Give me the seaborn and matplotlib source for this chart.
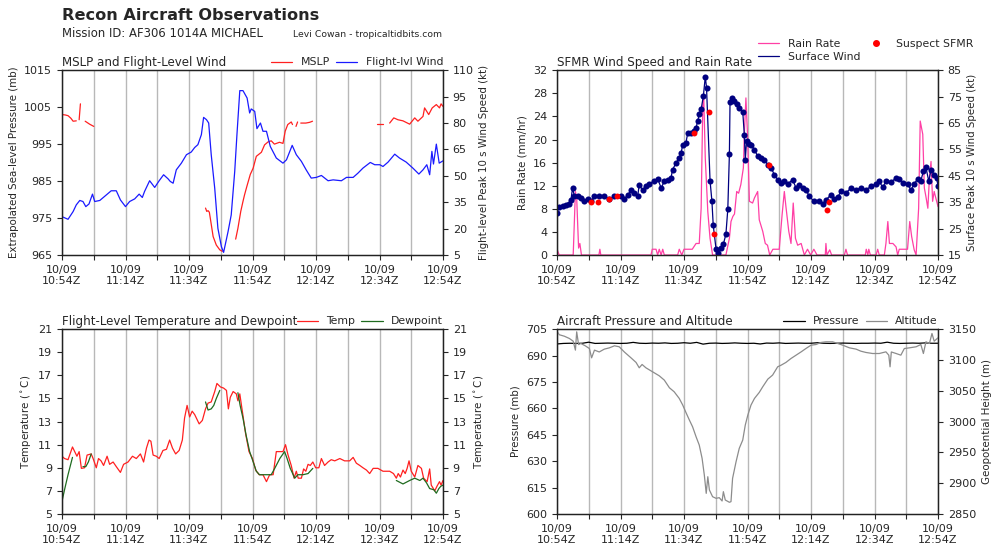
import matplotlib
matplotlib.use("Agg")
import matplotlib.pyplot as plt
import matplotlib.dates as mdates
from matplotlib.lines import Line2D
import numpy as np
import pandas as pd
import seaborn as sns

nan = np.nan
BASE = pd.Timestamp("2018-10-09 10:54")

# minutes after 10:54Z, NaN values mark gaps in the record
mslp_t = [0, 1, 1.9, 2.8, 3.5, 4.5, 5.0, 5.4, 5.8, 6.5, 7.3, 8.0, 8.7, 10, 11,
          45.2, 45.6, 46, 46.4, 46.7, 47.6, 48.6, 49.7, 50.5, 52,
          54.7, 55.4, 56.3, 57, 57.5, 58.2, 59.3, 60.2, 61.2, 62.8, 63.8, 64.9, 65.9,
          66.9, 68.5, 69.6, 70.3, 71.1, 72.2, 72.6, 73.2, 73.7, 74.2, 74.8,
          75.2, 76.8, 78, 78.9, 85, 99.2, 101.1, 102,
          103.2, 104.5, 105.8, 107.4, 109.5, 111.1, 112.1, 113.7, 114.2, 115.5,
          116.6, 117.9, 118.9, 119.4, 120]
mslp = [1003.0, 1002.9, 1002.7, 1002.0, 1001.2, 1001.3, nan, 1001.6, 1005.9, nan,
        1001.2, 1000.8, 1000.4, 999.8, nan,
        977.7, 976.8, 977.0, 976.6, 975.0, 970.0, 967.7, 966.4, 966.0, nan,
        969.3, 972.2, 976.8, 979.5, 981.3, 983.5, 986.8, 988.5, 991.7, 992.8, 994.8,
        995.6, 995.9, 995.0, 995.5, 995.2, 998.5, 1000.3, 1001.0, 1000.3, nan,
        999.8, 1001.0, nan, 1000.7, 1000.7, 1000.9, 1001.2, nan, 1000.5, 1000.5, nan,
        1000.7, 1002.1, 1001.6, 1001.3, 1000.4, 1002.1, 1001.2, 1002.5, 1004.8,
        1003.0, 1004.8, 1005.7, 1004.8, 1005.9, 1005.2]

flwind_t = [0, 1.9, 3.5, 4.5, 5.6, 6.6, 7.5, 8.5, 9.6, 10.3, 11.9, 14, 15.5, 17.1,
            18.4, 20, 21.3, 22.9, 24.3, 25.3, 26, 27.6, 29.2, 30.6, 32, 33.4, 34.1,
            35, 36, 37.6, 39.2, 40.7, 41.8, 42.8, 43.9, 44.6, 45.5, 46.2, 47, 48.1,
            49.1, 50.2, 50.9, 52.3, 53.3, 54.4, 55.1, 56, 57, 58.3, 59.1, 59.6, 60.7,
            61.4, 62.5, 63.3, 64.4, 65.6, 67.5, 69.6, 70.7, 72.5, 73.8, 75.4, 76.9,
            78.5, 80.1, 81.7, 83.8, 85.4, 88, 89.6, 91.7, 93.2, 94.8, 97.1, 98.5,
            100.1, 101.1, 102.7, 104.8, 106.3, 108.4, 110.5, 112.4, 113.7, 114.9,
            115.8, 116.5, 117, 117.9, 118.8, 120]
flwind = [26.8, 25.3, 29.7, 33.5, 36.0, 35.4, 32.5, 34.0, 39.6, 35.4, 36.0, 39.2,
          41.5, 41.5, 36.3, 32.5, 35.4, 36.9, 39.6, 37.7, 41.1, 47.2, 43.4, 47.2,
          50.6, 48.3, 46.8, 45.8, 53.4, 57.2, 62.0, 63.5, 66.1, 67.7, 73.4, 83.2,
          81.9, 80.0, 62.0, 43.0, 20.2, 9.8, 6.5, 18.3, 27.8, 52.5, 73.4, 98.4,
          98.4, 94.2, 85.7, 88.0, 86.6, 76.8, 80.0, 75.3, 75.3, 66.7, 60.1, 57.2,
          59.1, 67.3, 62.0, 58.2, 53.4, 48.7, 49.1, 50.2, 47.2, 47.7, 47.2, 49.1,
          49.1, 51.5, 54.4, 57.6, 56.3, 56.3, 55.3, 57.8, 62.3, 60.1, 57.8, 54.4,
          51.0, 53.4, 56.3, 50.6, 63.9, 56.7, 68.0, 57.2, 58.5]

rain_t = [0, 0.7, 5.1, 5.8, 6.2, 6.8, 7.2, 7.7, 13.2, 13.5, 13.8, 29.6, 30, 31.2,
          31.7, 32.2, 32.8, 33.3, 33.8, 38, 38.5, 39.3, 40, 41, 42.6, 43.8, 44.8,
          45.4, 45.9, 46.2, 46.7, 47.5, 48.2, 49, 53.2, 54.3, 54.8, 55.4, 55.9,
          56.6, 57.2, 57.9, 58.7, 59, 59.5, 60, 60.6, 61.6, 62.2, 63.2, 63.7, 64.8,
          65.6, 66.3, 67, 68, 70, 70.9, 71.6, 72.1, 73, 73.7, 74.4, 75.1, 75.8,
          76.9, 77.9, 78.9, 79.9, 80.9, 81.9, 84.5, 84.7, 85, 85.9, 86.5, 90.5, 91,
          91.5, 97.1, 97.4, 97.9, 98.2, 98.7, 100.5, 101, 101.5, 103.1, 103.6,
          104.2, 104.7, 105.8, 106.8, 107.3, 107.8, 110.4, 111.1, 111.7, 112.5,
          113.1, 113.9, 114.4, 115.2, 115.7, 116.2, 116.8, 117.3, 117.8, 118.3,
          118.8, 119.3, 120]
rain = [1.0, 0, 0, 11.0, 9.9, 1.2, 2.0, 0, 0, 1.0, 0, 0, 1.0, 1.0, 0, 1.0, 0, 1.0,
        0, 0, 1.0, 0, 1.0, 1.0, 1.0, 2.0, 2.0, 8.1, 25.5, 27.8, 16.8, 7.5, 2.9, 0,
        0, 2.9, 5.8, 6.7, 7.1, 11.0, 10.7, 12.2, 15.1, 20.9, 27.2, 20.9, 9.3, 9.0,
        9.9, 11.0, 6.1, 4.1, 2.0, 1.7, 0, 1.0, 1.0, 7.0, 11.0, 8.4, 4.1, 2.0, 9.0,
        2.9, 1.7, 2.0, 0, 1.0, 0, 1.0, 0, 0, 2.0, 0, 0.9, 0, 0, 1.0, 0, 0, 1.0, 0,
        1.0, 0, 0, 1.0, 0, 0, 2.0, 5.8, 2.0, 2.0, 1.4, 0, 1.0, 1.0, 5.8, 3.2, 0.9,
        0, 8.1, 23.2, 20.9, 11.6, 10.1, 8.1, 13.3, 16.2, 9.3, 11.0, 9.9, 8.4]

sfc_t = [0, 0.5, 1.8, 2.8, 3.9, 4.4, 4.9, 5.5, 6.5, 7.6, 8.6, 9.7, 10.7, 11.8,
         13.3, 14.9, 16.5, 18.1, 20.2, 21.2, 22.3, 23.3, 24.4, 25.4, 25.9, 27, 28,
         29.1, 30.7, 31.7, 32.8, 33.8, 34.9, 35.9, 36.4, 37.5, 38.5, 39.1, 39.6,
         40.6, 41.2, 42.2, 43.2, 43.8, 44.3, 44.8, 45.4, 46.1, 46.7, 47.1, 48.2,
         48.8, 49.2, 50.1, 50.6, 51.7, 52.4, 53.2, 53.8, 54.3, 54.5, 55.1, 55.9,
         56.6, 57.4, 58.5, 59, 59.3, 59.7, 60.4, 61.1, 62.2, 63.2, 64.3, 65.3,
         66.4, 67.4, 68.5, 69.5, 70.6, 71.6, 72.6, 74.2, 75.3, 76.3, 77.4, 78.4,
         79.5, 81, 82.6, 83.7, 84.7, 86.3, 87.3, 88.4, 89.4, 91, 92.6, 94.2, 95.7,
         97.3, 98.9, 100.5, 101.5, 102.6, 103.6, 105.2, 106.8, 107.8, 108.9,
         110.4, 111.5, 112.5, 113.6, 114.6, 115.4, 116.2, 117.1, 117.8, 118.8,
         119.6, 120]
sfc_wind = [30.9, 33.0, 33.4, 34.0, 34.3, 35.9, 40.4, 37.2, 37.2, 36.6, 35.3, 36.3,
            35.3, 37.2, 37.2, 37.2, 36.3, 37.2, 37.2, 36.3, 37.8, 39.5, 38.5, 37.2,
            41.6, 39.5, 41.0, 41.9, 43.2, 43.9, 40.4, 42.9, 43.5, 44.2, 47.3, 49.9,
            51.8, 53.7, 56.8, 57.5, 61.3, 61.3, 61.9, 63.2, 65.7, 68.3, 70.2, 75.2,
            82.5, 78.4, 43.2, 35.3, 26.4, 17.2, 15.9, 17.8, 19.1, 22.9, 32.4, 53.4,
            73.1, 74.6, 73.3, 72.1, 70.5, 69.3, 60.6, 51.1, 58.1, 57.1, 56.8, 54.9,
            52.4, 51.8, 51.1, 49.2, 48.0, 45.4, 43.5, 42.3, 42.9, 41.9, 43.5, 40.4,
            41.6, 40.4, 39.7, 37.2, 35.3, 35.3, 34.3, 35.9, 37.8, 36.3, 36.8, 39.1,
            38.5, 40.4, 39.7, 40.4, 39.7, 41.0, 41.9, 42.9, 40.6, 42.9, 42.6, 44.2,
            43.9, 42.3, 41.9, 39.7, 41.9, 43.9, 43.2, 46.7, 48.2, 42.9, 47.3, 45.4,
            44.2, 41.0]

suspect_t = [10.7, 12.8, 16.5, 18.9, 43.3, 47.8, 49.6, 66.7, 85.0, 85.7]
suspect = [35.0, 35.0, 36.3, 37.2, 61.3, 69.3, 23.0, 49.2, 32.1, 35.0]

temp_t = [0, 0.8, 1.9, 2.4, 3.3, 4, 4.7, 5.4, 6.1, 7.1, 7.9, 9.2, 9.8, 10.8, 11.5,
          12.3, 13.1, 14.2, 15, 16.1, 17.1, 18.4, 19.4, 20.8, 22.2, 23.4, 24.7,
          25.7, 26.6, 27.4, 28, 28.7, 29.7, 30.6, 31.8, 32.9, 33.9, 34.8, 35.8,
          36.9, 37.9, 38.6, 39.4, 40.2, 41, 41.8, 43.2, 44.2, 45.2, 46, 47, 48.1,
          48.8, 49.9, 50.9, 51.8, 52.4, 53, 53.9, 54.9, 55.4, 56, 56.8, 57.8, 58.9,
          60, 61, 62.1, 63.3, 64.4, 65.4, 66.5, 67.5, 68.6, 69.6, 70.4, 71.2, 72.2,
          73.1, 73.8, 74.4, 75.4, 76.1, 76.8, 77.5, 78.2, 79, 79.9, 80.9, 81.7,
          82.7, 83.8, 84.8, 85.9, 87.5, 89, 90.6, 91.7, 92.7, 93.8, 94.8, 95.9,
          96.9, 98, 99.5, 101.1, 103.2, 104.4, 105.3, 105.9, 106.6, 107.4, 108.1,
          108.7, 109.3, 110, 111.1, 112.1, 113.2, 113.9, 115, 115.8, 116.3, 117.4,
          118.1, 118.9, 119.4, 120]
temp = [10.0, 9.8, 9.7, 10.1, 10.8, 10.4, 10.0, 10.4, 8.95, 9.0, 10.1, 10.2, 9.8,
        9.0, 9.8, 9.6, 9.2, 10.0, 9.3, 9.5, 9.1, 8.6, 9.3, 9.5, 10.0, 9.8, 10.2,
        9.5, 10.7, 11.4, 11.3, 10.1, 10.0, 9.8, 10.5, 10.6, 11.4, 10.7, 10.2, 10.5,
        11.4, 13.3, 14.4, 13.4, 13.9, 13.6, 12.8, 13.1, 14.1, 14.6, 14.7, 15.6,
        16.3, 16.0, 15.9, 15.7, 14.1, 15.1, 15.6, 15.4, 14.8, 15.4, 13.9, 12.0,
        10.4, 9.8, 8.8, 8.4, 8.4, 7.8, 8.4, 8.4, 10.4, 10.4, 10.4, 11.0, 10.1, 9.2,
        8.1, 8.7, 8.1, 8.1, 8.9, 8.7, 9.3, 9.2, 9.5, 9.0, 9.0, 9.8, 9.2, 9.5, 9.7,
        9.6, 9.8, 9.6, 9.6, 9.9, 9.4, 9.2, 9.0, 8.8, 8.5, 8.95, 8.95, 8.7, 8.7,
        8.5, 8.1, 8.5, 8.2, 8.8, 8.5, 8.95, 9.6, 8.7, 8.2, 9.2, 8.95, 8.1, 7.8,
        8.9, 7.5, 7.0, 7.4, 7.8, 7.5, 7.9]

dew_t = [0, 0.8, 1.9, 3.3, 5, 6.6, 7.5, 8.3, 9.2, 20, 45.2, 46, 47, 47.8, 48.6,
         49.7, 52, 55.4, 56.1, 57, 58, 59.1, 60.1, 61.2, 62.2, 64.4, 65.9, 67,
         68.6, 70.1, 70.9, 71.9, 73.3, 74.3, 75.9, 77.5, 79, 90, 105.3, 107.4,
         109.5, 111.1, 112.7, 113.7, 114.8, 115.8, 117.1, 117.9, 118.7, 119.3, 120]
dew = [6.1, 7.1, 8.4, 9.9, nan, 9.1, 9.1, 9.5, 10.2, nan, 14.7, 14.0, 14.1, 14.4,
       15.0, 15.7, nan, 15.5, 14.4, 13.3, 11.8, 10.4, 9.6, 8.7, 8.4, 8.4, 8.4,
       8.95, 9.8, 10.4, 9.8, 8.95, 8.1, 8.4, 8.4, 8.5, 8.95, nan, 7.9, 7.6, 7.9,
       8.1, 7.9, 8.1, 7.7, 7.2, 7.1, 6.8, 7.2, 7.4, 7.5]

pres_t = list(range(0, 121, 2))
pres = [696.6, 696.9, 697.0, 696.9, 697.0, 697.6, 696.9, 697.0, 697.1, 697.0,
        696.9, 697.0, 697.5, 697.0, 696.9, 697.1, 697.0, 697.2, 696.9, 697.0,
        697.3, 697.0, 697.5, 696.5, 697.0, 697.1, 696.9, 697.0, 697.2, 697.0,
        696.9, 697.0, 696.6, 697.1, 697.0, 697.2, 696.9, 697.0, 697.1, 697.0,
        697.0, 697.3, 697.0, 696.9, 697.0, 697.1, 697.0, 696.9, 697.0, 697.0,
        697.1, 697.0, 697.6, 697.0, 696.9, 697.0, 697.1, 697.0, 697.2, 697.0,
        697.0]

alt_t = [0, 0.7, 2.3, 3.9, 5.1, 5.8, 6.2, 6.8, 7.5, 8.9, 10.2, 10.9, 11.8, 13.3,
         14.9, 16.5, 18.1, 19.6, 21.2, 23.3, 24.9, 25.9, 26.8, 28, 30.1, 32.2,
         33.8, 35.4, 36.9, 38.5, 39.6, 40.6, 41.7, 42.7, 43.8, 44.8, 45.7, 46.4,
         47, 47.5, 48, 49, 50.1, 51.1, 52, 52.4, 53, 54.3, 54.8, 55.3, 56.4, 57.4,
         58.5, 59.3, 60.1, 61.1, 62.2, 63.7, 64.8, 66.4, 67.9, 69.5, 70.6, 72.1,
         73.7, 75.3, 76.9, 78.4, 80, 81.6, 83.1, 84.7, 86.8, 88.4, 90, 92.1, 94.2,
         95.7, 97.3, 99.4, 101.5, 103.6, 104.5, 104.9, 105.3, 106.8, 108.3, 109.4,
         111, 113.1, 114.6, 115.4, 116.2, 117.3, 118.1, 118.8, 120]
alt = [3146.8, 3141.0, 3138.6, 3134.9, 3130.5, 3116.0, 3145.7, 3125.0, 3126.8,
       3123.0, 3118.6, 3103.5, 3116.0, 3113.0, 3117.6, 3119.7, 3123.0, 3121.4,
       3113.0, 3103.5, 3096.0, 3087.3, 3092.7, 3087.3, 3080.8, 3074.3, 3067.3,
       3054.9, 3048.4, 3037.6, 3026.8, 3014.9, 3002.4, 2991.6, 2975.4, 2961.9,
       2940.3, 2913.2, 2883.5, 2910.5, 2889.0, 2878.1, 2875.4, 2876.5, 2871.1,
       2886.2, 2872.7, 2869.0, 2870.0, 2907.8, 2934.9, 2956.5, 2970.0, 2994.3,
       3010.5, 3026.8, 3037.6, 3047.3, 3056.5, 3068.9, 3075.4, 3088.9, 3091.6,
       3096.0, 3102.4, 3107.8, 3113.2, 3118.6, 3124.0, 3125.1, 3128.4, 3129.5,
       3129.5, 3126.8, 3124.0, 3119.7, 3117.6, 3114.3, 3112.2, 3110.5, 3110.5,
       3113.2, 3107.8, 3088.9, 3113.0, 3110.5, 3107.8, 3118.6, 3119.7, 3121.4,
       3125.1, 3110.5, 3129.5, 3126.8, 3143.0, 3130.5, 3136.0]


def frame(t, v):
    df = pd.DataFrame({"time": BASE + pd.to_timedelta(t, unit="min"), "value": v})
    df["seg"] = df["value"].isna().cumsum()
    return df.dropna()


def draw(ax, t, v, color, lw=0.9, **kw):
    sns.lineplot(data=frame(t, v), x="time", y="value", units="seg", estimator=None,
                 color=color, lw=lw, ax=ax, legend=False, **kw)


def style(ax, ax2, title, left_lab, right_lab, lticks, rticks):
    ax.set_xlim(BASE, BASE + pd.Timedelta(minutes=120))
    ax.xaxis.set_major_locator(mdates.MinuteLocator(byminute=[14, 34, 54]))
    ax.xaxis.set_minor_locator(mdates.MinuteLocator(byminute=[4, 24, 44]))
    ax.xaxis.set_major_formatter(mdates.DateFormatter("%m/%d\n%H:%MZ"))
    ax.grid(axis="x", which="both", color="#b8b8b8", lw=1)
    ax.set_ylim(lticks[0], lticks[-1])
    ax.set_yticks(lticks)
    ax2.set_ylim(rticks[0], rticks[-1])
    ax2.set_yticks(rticks)
    ax.set_xlabel("")
    ax.set_ylabel(left_lab, fontsize=7.4)
    ax2.set_ylabel(right_lab, fontsize=7.4)
    ax.set_title(title, loc="left", fontsize=8.6, pad=3)
    for a in (ax, ax2):
        a.tick_params(labelsize=8, direction="out", length=3.5, width=0.8)
        a.tick_params(axis="x", which="minor", length=3.5, width=0.8)
        for s in a.spines.values():
            s.set_linewidth(0.9)
            s.set_color("#222222")


def legend(ax, handles, **kw):
    ax.legend(handles=handles, loc="lower right", bbox_to_anchor=(1.0, 1.015),
              ncol=2, frameon=False, fontsize=7.8, borderaxespad=0, borderpad=0,
              handlelength=2.0, columnspacing=0.55, handletextpad=0.75, **kw)


sns.set_style("ticks")
plt.rcParams["font.family"] = ["DejaVu Sans"]

fig = plt.figure(figsize=(10, 5.55), dpi=100)
ax1 = fig.add_axes([0.062, 0.5405, 0.381, 0.333])
ax3 = fig.add_axes([0.557, 0.5405, 0.381, 0.333])
ax5 = fig.add_axes([0.062, 0.0739, 0.381, 0.333])
ax7 = fig.add_axes([0.557, 0.0739, 0.381, 0.333])
ax2, ax4, ax6, ax8 = ax1.twinx(), ax3.twinx(), ax5.twinx(), ax7.twinx()

# MSLP and flight-level wind
draw(ax1, mslp_t, mslp, "#ff2020")
draw(ax2, flwind_t, flwind, "#1a1aff")
style(ax1, ax2, "MSLP and Flight-Level Wind", "Extrapolated Sea-level Pressure (mb)",
      "Flight-level Peak 10 s Wind Speed (kt)", list(range(965, 1016, 10)),
      list(range(5, 111, 15)))
legend(ax2, [Line2D([], [], color="#ff2020", lw=0.9, label="MSLP"),
             Line2D([], [], color="#1a1aff", lw=0.9, label="Flight-lvl Wind")])

# SFMR wind speed and rain rate
draw(ax3, rain_t, rain, "#ff3fa5")
draw(ax4, sfc_t, sfc_wind, "#000080", lw=0.9, marker="o", markersize=4.4,
     markeredgewidth=0)
sns.scatterplot(x=BASE + pd.to_timedelta(suspect_t, unit="min"), y=suspect, ax=ax4,
                color="red", s=18, linewidth=0, zorder=5)
style(ax3, ax4, "SFMR Wind Speed and Rain Rate", "Rain Rate (mm/hr)",
      "Surface Peak 10 s Wind Speed (kt)", list(range(0, 33, 4)),
      list(range(15, 86, 10)))
ax4.legend(handles=[Line2D([], [], color="#ff3fa5", lw=0.9, label="Rain Rate"),
                    Line2D([], [], color="#000080", lw=0.9, label="Surface Wind"),
                    Line2D([], [], color="red", lw=0, marker="o", markersize=4,
                           label="Suspect SFMR")],
           loc="lower left", bbox_to_anchor=(0.527, 1.045), ncol=2, frameon=False,
           fontsize=7.8, borderaxespad=0, borderpad=0, handlelength=2.0,
           columnspacing=0.45, handletextpad=0.8, labelspacing=0.3)

# flight-level temperature and dewpoint
draw(ax5, temp_t, temp, "#ff2020")
draw(ax5, dew_t, dew, "#1f6b1f")
style(ax5, ax6, "Flight-Level Temperature and Dewpoint", r"Temperature ($^\circ$C)",
      r"Temperature ($^\circ$C)", list(range(5, 22, 2)), list(range(5, 22, 2)))
legend(ax5, [Line2D([], [], color="#ff2020", lw=0.9, label="Temp"),
             Line2D([], [], color="#1f6b1f", lw=0.9, label="Dewpoint")])

# aircraft pressure and altitude
draw(ax7, pres_t, pres, "black", lw=0.9)
draw(ax8, alt_t, alt, "#8c8c8c", lw=0.9)
style(ax7, ax8, "Aircraft Pressure and Altitude", "Pressure (mb)",
      "Geopotential Height (m)", list(range(600, 706, 15)),
      list(range(2850, 3151, 50)))
legend(ax8, [Line2D([], [], color="black", lw=0.9, label="Pressure"),
             Line2D([], [], color="#8c8c8c", lw=0.9, label="Altitude")])

fig.text(0.062, 0.972, "Recon Aircraft Observations", fontsize=11.6,
         fontweight="bold", va="center")
fig.text(0.062, 0.940, "Mission ID: AF306 1014A MICHAEL", fontsize=8.4, va="center")
fig.text(0.293, 0.938, "Levi Cowan - tropicaltidbits.com", fontsize=6.7, va="center")

fig.savefig("out.png", dpi=100)
